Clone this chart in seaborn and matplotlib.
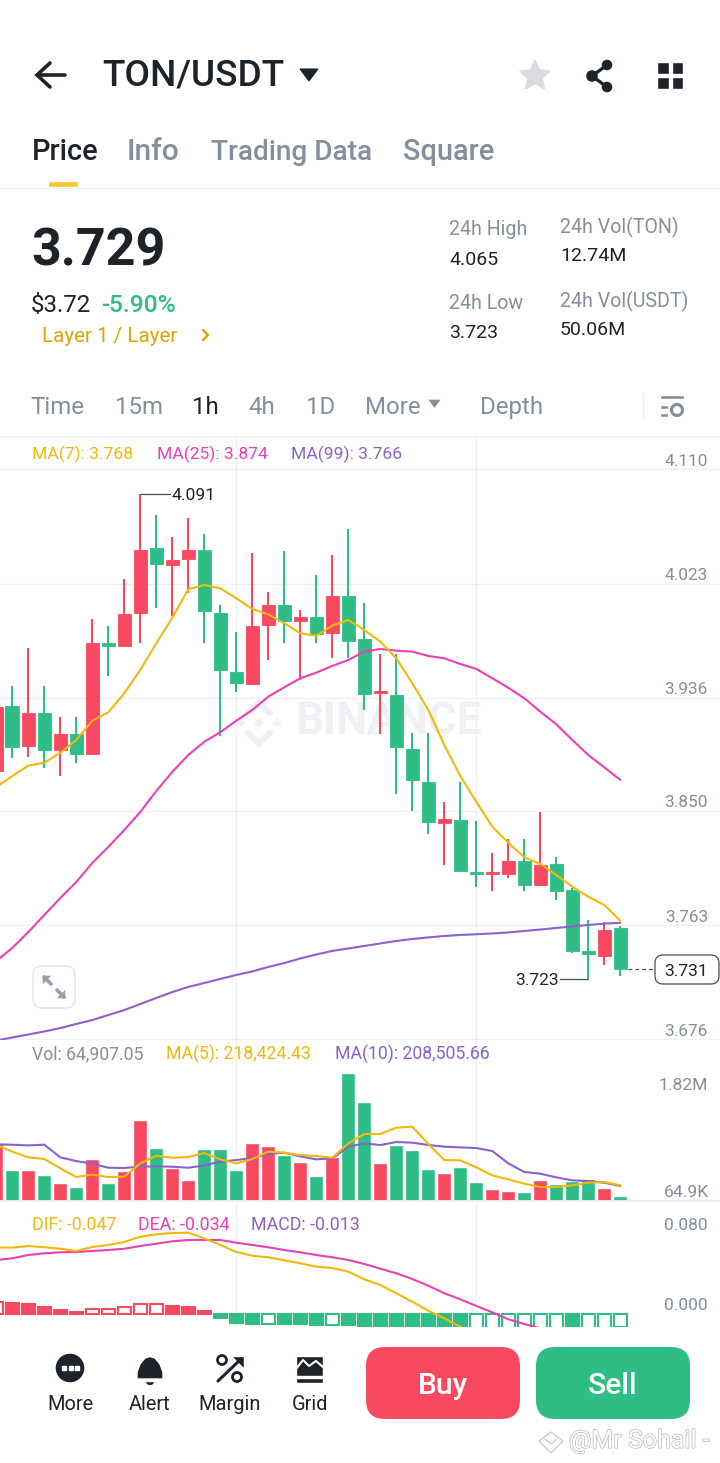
import numpy as np
import pandas as pd
import matplotlib
matplotlib.use("Agg")
import matplotlib.pyplot as plt
import matplotlib.patheffects as pe
from matplotlib.patches import Polygon, Rectangle, Circle, FancyBboxPatch
import seaborn as sns

# candle data, left to right
opens = [3.8806, 3.9301, 3.8995, 3.9244, 3.8964, 3.9084, 3.8934, 3.9777, 3.9758, 4.0010,
         4.0500, 4.0370, 4.0421, 4.0489, 4.0007, 3.9556, 3.9467, 3.9918, 4.0068, 3.9949,
         3.9977, 3.9857, 4.0137, 3.9807, 3.9400, 3.9383, 3.8972, 3.8720, 3.8411, 3.8431,
         3.8037, 3.8020, 3.8020, 3.8119, 3.7938, 3.8096, 3.7898, 3.7436, 3.7398, 3.7607]
highs = [3.9345, 3.9454, 3.9738, 3.9454, 3.9213, 3.9213, 3.9959, 3.9908, 4.0268, 4.0913,
         4.0751, 4.0588, 4.0731, 4.0609, 4.0068, 3.9865, 4.0462, 4.0167, 4.0479, 4.0028,
         4.0297, 4.0449, 4.0649, 4.0083, 3.9695, 3.9695, 3.9091, 3.9091, 3.8570, 3.8720,
         3.8421, 3.8177, 3.8289, 3.8289, 3.8490, 3.8149, 3.7916, 3.7667, 3.7657, 3.7624]
lows = [3.8790, 3.8905, 3.8913, 3.8825, 3.8766, 3.8863, 3.8934, 3.9528, 3.9746, 3.9777,
        4.0048, 3.9987, 4.0162, 3.9777, 3.9073, 3.9408, 3.9467, 3.9647, 3.9777, 3.9497,
        3.9777, 3.9667, 3.9667, 3.9269, 3.9086, 3.8627, 3.8502, 3.8322, 3.8091, 3.8033,
        3.7921, 3.7888, 3.7992, 3.7891, 3.7929, 3.7820, 3.7418, 3.7218, 3.7327, 3.7246]
closes = [3.9294, 3.8985, 3.9244, 3.8964, 3.9084, 3.8934, 3.9777, 3.9758, 3.9997, 4.0489,
          4.0380, 4.0411, 4.0489, 4.0020, 3.9576, 3.9477, 3.9908, 4.0068, 3.9949, 3.9977,
          3.9847, 4.0137, 3.9796, 3.9391, 3.9411, 3.8985, 3.8733, 3.8414, 3.8441, 3.8040,
          3.8020, 3.8033, 3.8119, 3.7938, 3.8089, 3.7891, 3.7436, 3.7409, 3.7596, 3.7297]

ma7 = [3.8682, 3.8766, 3.8845, 3.8867, 3.8944, 3.9040, 3.9187, 3.9251, 3.9396, 3.9573,
       3.9777, 3.9971, 4.0188, 4.0220, 4.0195, 4.0119, 4.0038, 3.9997, 3.9929, 3.9853,
       3.9834, 3.9911, 3.9954, 3.9878, 3.9789, 3.9662, 3.9472, 3.9269, 3.9002, 3.8766,
       3.8570, 3.8380, 3.8258, 3.8147, 3.8096, 3.8012, 3.7923, 3.7847, 3.7784, 3.7664]
ma25 = [3.7358, 3.7457, 3.7578, 3.7708, 3.7837, 3.7959, 3.8104, 3.8226, 3.8355, 3.8492,
        3.8652, 3.8797, 3.8926, 3.9027, 3.9099, 3.9187, 3.9269, 3.9370, 3.9442, 3.9510,
        3.9553, 3.9604, 3.9649, 3.9713, 3.9733, 3.9720, 3.9713, 3.9680, 3.9662, 3.9619,
        3.9581, 3.9510, 3.9438, 3.9358, 3.9256, 3.9160, 3.9040, 3.8926, 3.8832, 3.8736]
ma99 = [3.6752, 3.6775, 3.6798, 3.6821, 3.6847, 3.6878, 3.6908, 3.6946, 3.6984, 3.7030,
        3.7076, 3.7121, 3.7160, 3.7190, 3.7221, 3.7251, 3.7278, 3.7312, 3.7342, 3.7377,
        3.7407, 3.7434, 3.7453, 3.7472, 3.7491, 3.7510, 3.7525, 3.7537, 3.7548, 3.7556,
        3.7561, 3.7567, 3.7575, 3.7586, 3.7597, 3.7609, 3.7620, 3.7632, 3.7642, 3.7649]

# volume in thousands
volume = [825, 437, 431, 370, 252, 189, 593, 246, 427, 1152,
          749, 459, 294, 729, 729, 437, 825, 772, 644, 555,
          355, 626, 1820, 1403, 536, 786, 715, 451, 398, 483,
          266, 161, 132, 124, 294, 242, 284, 309, 175, 64.9]
vol_ma5 = [792, 697, 616, 593, 460, 337, 370, 337, 341, 531,
           640, 611, 621, 678, 588, 531, 593, 697, 683, 649,
           635, 611, 815, 948, 948, 1038, 1052, 806, 578, 574,
           474, 360, 303, 242, 194, 194, 218, 256, 265, 218]
vol_ma10 = [801, 796, 787, 796, 616, 564, 526, 469, 465, 483,
            488, 483, 469, 502, 555, 578, 607, 664, 683, 630,
            588, 602, 768, 815, 792, 834, 825, 792, 768, 758,
            749, 706, 531, 408, 384, 332, 289, 280, 256, 209]

dif = [.0667, .0663, .0680, .0667, .0653, .0630, .0670, .0690, .0720, .0773,
       .0797, .0810, .0813, .0757, .0690, .0620, .0583, .0567, .0537, .0507,
       .0473, .0460, .0423, .0347, .0290, .0207, .0123, .0033, -.0043, -.0127,
       -.0210, -.0280, -.0330, -.0360, -.0400, -.0430, -.0480, -.0480, -.0480, -.0470]
dea = [.0540, .0557, .0590, .0607, .0617, .0620, .0630, .0640, .0653, .0680,
       .0703, .0727, .0740, .0740, .0740, .0713, .0690, .0667, .0640, .0617,
       .0590, .0567, .0540, .0500, .0453, .0407, .0350, .0283, .0207, .0147,
       .0080, .0017, -.0053, -.0100, -.0143, -.0190, -.0230, -.0270, -.0310, -.0340]
macd = [.0123, .0107, .0100, .0067, .0043, .0020, .0047, .0053, .0070, .0098,
        .0102, .0083, .0073, .0027, -.0037, -.0093, -.0100, -.0099, -.0100, -.0100,
        -.0113, -.0107, -.0110, -.0130, -.0160, -.0200, -.0230, -.0250, -.0250, -.0270,
        -.0260, -.0250, -.0240, -.0230, -.0200, -.0180, -.0190, -.0170, -.0150, -.0130]

price_ticks = [4.110, 4.023, 3.936, 3.850, 3.763, 3.676]
volume_ticks = ["1.82M", "64.9K"]
macd_ticks = [0.080, 0.000]
time_ticks = [15, 30]  # candles that sit on a vertical grid line

GREEN = "#2ebd85"
RED = "#f84960"
YELLOW = "#f0b90b"
PINK = "#ec3fb3"
PURPLE = "#8d62c8"
DARK = "#1e2329"
GRAY = "#848e9c"
GRID = "#eef0f3"

sns.set_theme(style="white")
plt.rcParams["font.family"] = ["Roboto", "DejaVu Sans"]

W, H = 720, 1463
fig = plt.figure(figsize=(W / 100, H / 100), dpi=100, facecolor="white")


def panel(top, bottom):
    ax = fig.add_axes([0, (H - bottom) / H, 1, (bottom - top) / H], facecolor="none")
    for s in ax.spines.values():
        s.set_visible(False)
    return ax


# background layer for the watermark, front layer for the app chrome
back = fig.add_axes([0, 0, 1, 1], zorder=0)
main = panel(437, 1040)
vol = panel(1040, 1200.7)
osc = panel(1201, 1326.7)
front = fig.add_axes([0, 0, 1, 1], zorder=5, facecolor="none")
for a in (back, front):
    a.set_xlim(0, W)
    a.set_ylim(H, 0)
    a.axis("off")
for a in (main, vol, osc):
    a.set_zorder(2)

idx = np.arange(len(opens))
colors = [RED if c >= o else GREEN for o, c in zip(opens, closes)]

# 주 차트: candles and moving averages
main.vlines(idx, lows, highs, colors=colors, linewidth=1.5, zorder=2)
main.bar(idx, np.abs(np.subtract(closes, opens)), bottom=np.minimum(opens, closes),
         width=0.85, color=colors, edgecolor=colors, linewidth=0.6, zorder=3)
for arr, col in [(ma99, PURPLE), (ma25, PINK), (ma7, YELLOW)]:
    sns.lineplot(x=idx, y=arr, ax=main, color=col, linewidth=1.5, errorbar=None, zorder=4)

# volume panel
vol_df = pd.DataFrame({"i": idx, "v": volume, "c": colors})
sns.barplot(data=vol_df, x="i", y="v", hue="c", palette={RED: RED, GREEN: GREEN},
            native_scale=True, dodge=False, legend=False, width=0.875, saturation=1,
            ax=vol, zorder=3)
for arr, col in [(vol_ma10, PURPLE), (vol_ma5, YELLOW)]:
    sns.lineplot(x=idx, y=arr, ax=vol, color=col, linewidth=1.5, errorbar=None, zorder=4)

# macd panel, hollow bars when the histogram is rising
for i, val in enumerate(macd):
    col = RED if val >= 0 else GREEN
    hollow = i == 0 or val > macd[i - 1]
    osc.bar(i, val, width=0.8, facecolor="white" if hollow else col, edgecolor=col,
            linewidth=1.5, zorder=3)
for arr, col in [(dea, PINK), (dif, YELLOW)]:
    sns.lineplot(x=idx, y=arr, ax=osc, color=col, linewidth=1.5, errorbar=None, zorder=4)

# limits: 16 px per candle, first candle centre at x=-3.7
xlim = (3.7 / 16, (W + 3.7) / 16)
main.set_ylim(3.6756, 4.1347)
vol.set_ylim(0, 2285)
osc.set_ylim(-0.0127, 0.113)
for a in (main, vol, osc):
    a.set_xlim(*xlim)
    a.set_xticks(time_ticks)
    a.set_xlabel("")
    a.set_ylabel("")
    a.tick_params(length=0, labelbottom=False, labelleft=False)
    a.grid(True, axis="x", color=GRID, linewidth=1, zorder=0)
main.set_yticks(price_ticks)
main.grid(True, axis="y", color=GRID, linewidth=1, zorder=0)
vol.set_yticks([])
osc.set_yticks([])


def tick_label(ax, s, y, xpx=708):
    ax.annotate(s, (xpx / W, y), xycoords=("axes fraction", "data"), xytext=(0, 5.8),
                textcoords="offset points", ha="right", va="center", fontsize=12.4, color=GRAY,
                zorder=6)


for p in price_ticks:
    tick_label(main, f"{p:.3f}", p)
for p in macd_ticks:
    tick_label(osc, f"{p:.3f}", p)


def label(x, y, s, px=20, color=DARK, ha="left", weight="normal", ax=front, **kw):
    # Roboto sits a little high with va=center
    return ax.text(x, y + 1.8, s, fontsize=px * 0.72, color=color, ha=ha, va="center",
                   fontweight=weight, **kw)


label(708, 1084, volume_ticks[0], 17.5, GRAY, ha="right")
label(709, 1191, volume_ticks[1], 17.5, GRAY, ha="right")

# high / low markers
hi = int(np.argmax(highs))
lo = int(np.argmin(lows))
main.plot([hi, hi + 1.85], [highs[hi]] * 2, color="#474d57", lw=0.9, zorder=5)
main.text(hi + 1.93, highs[hi] - 0.0012, f"{highs[hi]:.3f}", fontsize=12.6, color=DARK, va="center", zorder=6)
main.plot([lo, lo - 1.75], [lows[lo] + 0.0002] * 2, color="#474d57", lw=0.9, zorder=5)
main.text(lo - 1.85, lows[lo] - 0.0012, "3.723", fontsize=12.6, color=DARK, va="center", ha="right", zorder=6)

# last price tag
main.plot([len(idx) - 0.5, len(idx) + 1.1], [closes[-1]] * 2, color="#474d57", lw=0.9,
          dashes=(3, 2.5), zorder=5)
front.add_patch(FancyBboxPatch((655, 955), 64, 29, boxstyle="round,pad=0,rounding_size=8",
                               fc="white", ec="#474d57", lw=0.9))
label(686, 969.5, "3.731", 17.5, DARK, ha="center")

# watermark
label(295, 720, "BINANCE", 44, "#eef0f3", weight="bold", ax=back)
for cx, cy, r in [(259, 723, 6), (241, 723, 5.5), (277, 723, 5.5)]:
    back.add_patch(Polygon([(cx - r, cy), (cx, cy - r), (cx + r, cy), (cx, cy + r)], fc="#eef0f3"))
back.plot([248, 259, 270], [713, 703, 713], color="#eef0f3", lw=4.5, solid_joinstyle="miter")
back.plot([248, 259, 270], [733, 743, 733], color="#eef0f3", lw=4.5, solid_joinstyle="miter")

# header
front.plot([37, 65], [75, 75], color=DARK, lw=2.6)
front.plot([50, 37, 50], [63, 75, 87], color=DARK, lw=2.6, solid_joinstyle="miter")
label(102, 74.5, "TON/USDT", 37, DARK, weight="medium")
front.add_patch(Polygon([(300, 69), (318, 69), (309, 81)], fc=DARK, ec=DARK, lw=0.8))
star_a = np.deg2rad(np.arange(-90, 270, 36))
star_r = np.where(np.arange(10) % 2 == 0, 16, 7.5)
front.add_patch(Polygon(np.c_[535 + star_r * np.cos(star_a), 76 + star_r * np.sin(star_a)],
                        fc="#d9dbe1", ec="#d9dbe1", lw=1))
front.plot([607, 592, 607], [65, 76, 87], color=DARK, lw=2.4)
for cx, cy, r in [(607, 65, 6), (592, 76, 6.5), (607, 87, 6)]:
    front.add_patch(Circle((cx, cy), r, fc=DARK))
for x0, y0 in [(657, 62), (671.5, 62), (657, 76.5), (671.5, 76.5)]:
    front.add_patch(Rectangle((x0, y0), 11.5, 12, fc=DARK))

# tabs
label(32, 150.5, "Price", 29, DARK, weight="medium")
label(127, 150.5, "Info", 30, GRAY, weight="medium")
label(211, 150.5, "Trading Data", 28, GRAY, weight="medium")
label(403, 150.5, "Square", 29, GRAY, weight="medium")
front.add_patch(Rectangle((48, 181), 30, 6, fc="#f6c62f"))
front.plot([0, W], [187.5, 187.5], color=GRID, lw=1)

# ticker block
label(31, 250, "3.729", 52, DARK, weight="bold")
label(31, 304, "$3.72", 24, DARK)
label(101, 304, "-5.90%", 24.5, GREEN, weight="medium")
label(42, 335, "Layer 1 / Layer", 20.5, "#dba400")
front.plot([203, 208, 203], [330, 335, 340], color="#dba400", lw=1.7)
for x, y, s in [(449, 228, "24h High"), (449, 302, "24h Low"),
                (560, 226, "24h Vol(TON)"), (560, 300, "24h Vol(USDT)")]:
    label(x, y, s, 19.6, GRAY)
for x, y, s in [(449, 258, "4.065"), (449, 331, "3.723"), (560, 254, "12.74M"), (560, 328, "50.06M")]:
    label(x, y, s, 19.5, DARK)

# interval toolbar
for x, s, c in [(30, "Time", GRAY), (115, "15m", GRAY), (192, "1h", DARK), (248, "4h", GRAY),
                (306, "1D", GRAY), (365, "More", GRAY), (480, "Depth", GRAY)]:
    label(x, 406, s, 24, c)
front.add_patch(Polygon([(427, 399), (442, 399), (434.5, 409)], fc=GRAY))
front.plot([643, 643], [393, 417], color=GRID, lw=1)
front.add_patch(Rectangle((660, 395), 24, 3.5, fc=GRAY))
front.add_patch(Rectangle((660, 405), 8, 3.5, fc=GRAY))
front.add_patch(Rectangle((660, 413), 8, 3.5, fc=GRAY))
front.add_patch(Circle((677, 410), 5.5, fc="white", ec=GRAY, lw=2.2))
front.plot([0, W], [436.5, 436.5], color=GRID, lw=1.3)

# indicator legends
for x, s, c in [(32, "MA(7): 3.768", YELLOW), (157, "MA(25): 3.874", PINK), (291, "MA(99): 3.766", PURPLE)]:
    label(x, 453, s, 17.5, c)
for x, s, c in [(32, "Vol: 64,907.05", GRAY), (166, "MA(5): 218,424.43", YELLOW),
                (335, "MA(10): 208,505.66", PURPLE)]:
    label(x, 1053, s, 17.6, c)
for x, s, c in [(32, "DIF: -0.047", YELLOW), (138, "DEA: -0.034", PINK), (251, "MACD: -0.013", PURPLE)]:
    label(x, 1223, s, 17.8, c)
front.plot([0, W], [1200.7, 1200.7], color=GRID, lw=1.3)

# expand button
front.add_patch(FancyBboxPatch((33, 966), 42, 42, boxstyle="round,pad=0,rounding_size=9",
                               fc="white", ec="#e6e8ec", lw=1.2))
front.plot([44, 51], [977, 984], color="#9aa1ad", lw=2.6)
front.plot([57, 64], [990, 997], color="#9aa1ad", lw=2.6)
front.add_patch(Polygon([(42, 975), (53, 975), (42, 986)], fc="#9aa1ad"))
front.add_patch(Polygon([(66, 999), (55, 999), (66, 988)], fc="#9aa1ad"))

# bottom navigation
for x, s in [(70, "More"), (150, "Alert"), (230, "Margin"), (310, "Grid")]:
    label(x, 1403, s, 20, DARK, ha="center")
front.add_patch(Circle((70, 1368), 15, fc=DARK))
for x0 in (62, 68.5, 75):
    front.add_patch(Rectangle((x0, 1366), 4, 4, fc="white"))
front.add_patch(Polygon([(137, 1379), (137, 1372), (140, 1364), (145, 1358), (150, 1356.5), (155, 1358),
                         (160, 1364), (163, 1372), (163, 1379)], fc=DARK))
front.add_patch(Polygon([(144, 1381.5), (156, 1381.5), (153, 1385), (150, 1386), (147, 1385)], fc=DARK))
front.plot([218, 241], [1381, 1359], color=DARK, lw=2.2)
front.add_patch(Polygon([(231, 1356), (244, 1356), (244, 1369)], fc=DARK))
front.add_patch(Circle((222, 1360), 4.5, fc="white", ec=DARK, lw=2))
front.add_patch(Circle((237, 1377), 4.5, fc="white", ec=DARK, lw=2))
front.add_patch(Rectangle((296, 1356), 27, 20, fc=DARK))
front.plot([296, 303, 309, 316, 323], [1369, 1360, 1366, 1361, 1367], color="white", lw=1.5)
front.add_patch(Rectangle((296, 1378), 27, 4.5, fc=DARK))

for x0, c, s in [(366, RED, "Buy"), (536, GREEN, "Sell")]:
    front.add_patch(FancyBboxPatch((x0, 1347), 154, 72, boxstyle="round,pad=0,rounding_size=19", fc=c, ec="none"))
    label(x0 + 77, 1384, s, 30, "white", ha="center", weight="medium")

# reposter watermark
t = label(569, 1439, "@Mr Sohail -", 25, "white")
t.set_path_effects([pe.withStroke(linewidth=1.0, foreground="#b4b9c4")])
front.plot([539, 551, 563, 551, 539], [1441, 1453, 1441, 1432, 1441], color="#c4c8d0", lw=0.9)
front.plot([545, 551, 557], [1439, 1444, 1439], color="#c4c8d0", lw=0.9)

fig.savefig("out.png", dpi=100)
